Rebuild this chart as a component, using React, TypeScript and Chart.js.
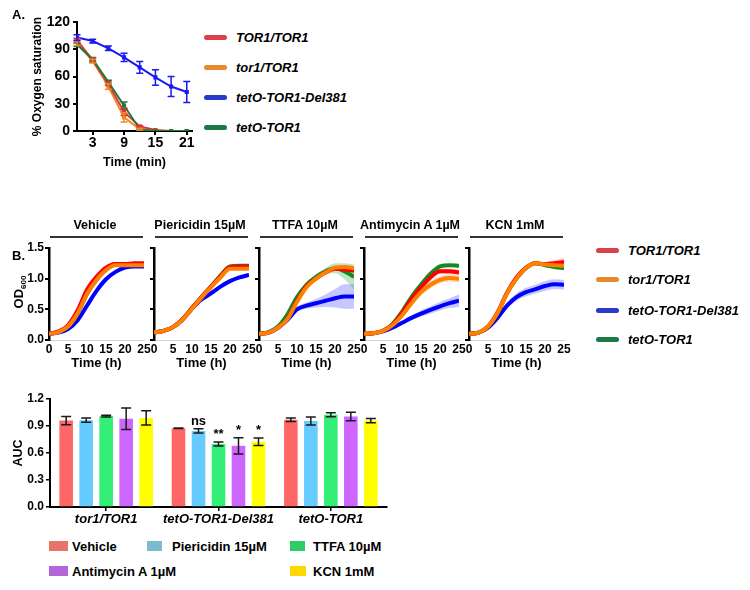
import React, { useEffect, useRef } from 'react';
import { Chart, registerables } from 'chart.js';
Chart.register(...registerables);

const FONT = '"Liberation Sans", Arial, Helvetica, sans-serif';
Chart.defaults.font.family = FONT;
Chart.defaults.color = '#000';

// ---------------- Panel A: oxygen consumption ----------------
const oxyTime = [0, 3, 6, 9, 12, 15, 18, 21];
const oxyXTicks = [3, 9, 15, 21];
const oxyYTicks = [0, 30, 60, 90, 120];
const oxyRed = [100, 78, 52, 21, 5, 1, 0, 0];
const oxyRedErr = [2, 2, 2, 4, 1, 0, 0, 0];
const oxyOrange = [97, 77, 49, 15, 2, 0, 0, 0];
const oxyOrangeErr = [3, 2, 3, 5, 1, 0, 0, 0];
const oxyBlue = [103, 99, 91, 81, 70, 59, 49, 43];
const oxyBlueErr = [3, 2, 2.5, 4.5, 6.5, 8.5, 11, 11.5];
const oxyGreen = [95, 79, 54, 28, 2, 0, 0, 0];
const oxyGreenErr = [2, 2, 2, 4, 1, 0, 0, 0];

// ---------------- Panel B: growth curves ----------------
const strainNames = ['TOR1/TOR1', 'tor1/TOR1', 'tetO-TOR1-Del381', 'tetO-TOR1'];
const treatmentNames = ['Vehicle', 'Piericidin 15µM', 'TTFA 10µM', 'Antimycin A 1µM', 'KCN 1mM'];
const odTime = [0, 2.5, 5, 7.5, 10, 12.5, 15, 17.5, 20, 22.5, 25];
const odXTicks = [0, 5, 10, 15, 20, 25];
const odYTicks = [0, 0.5, 1.0, 1.5];

// rows: Vehicle, Piericidin, TTFA, Antimycin A, KCN
const redOD = [
  [0.10, 0.14, 0.24, 0.48, 0.82, 1.03, 1.18, 1.24, 1.24, 1.25, 1.25],
  [0.12, 0.15, 0.21, 0.34, 0.52, 0.70, 0.87, 1.04, 1.19, 1.20, 1.20],
  [0.10, 0.12, 0.20, 0.35, 0.64, 0.88, 1.00, 1.10, 1.16, 1.15, 1.13],
  [0.10, 0.11, 0.15, 0.25, 0.44, 0.67, 0.86, 1.02, 1.12, 1.12, 1.10],
  [0.10, 0.12, 0.22, 0.45, 0.77, 1.02, 1.18, 1.25, 1.24, 1.25, 1.27],
];
const orangeOD = [
  [0.10, 0.13, 0.22, 0.43, 0.75, 0.98, 1.14, 1.22, 1.22, 1.22, 1.22],
  [0.12, 0.15, 0.21, 0.33, 0.51, 0.69, 0.86, 1.02, 1.16, 1.16, 1.16],
  [0.10, 0.12, 0.20, 0.34, 0.62, 0.86, 1.00, 1.10, 1.18, 1.19, 1.17],
  [0.10, 0.11, 0.15, 0.24, 0.40, 0.60, 0.78, 0.90, 0.98, 1.01, 1.00],
  [0.10, 0.12, 0.22, 0.44, 0.76, 1.00, 1.17, 1.25, 1.23, 1.22, 1.21],
];
const blueOD = [
  [0.10, 0.12, 0.18, 0.32, 0.56, 0.80, 0.99, 1.11, 1.18, 1.20, 1.20],
  [0.12, 0.15, 0.21, 0.33, 0.51, 0.66, 0.76, 0.87, 0.96, 1.02, 1.06],
  [0.10, 0.12, 0.20, 0.33, 0.50, 0.56, 0.60, 0.64, 0.68, 0.71, 0.71],
  [0.10, 0.11, 0.14, 0.20, 0.28, 0.36, 0.43, 0.49, 0.55, 0.60, 0.64],
  [0.10, 0.12, 0.20, 0.36, 0.56, 0.70, 0.78, 0.83, 0.88, 0.91, 0.90],
];
const greenOD = [
  [0.10, 0.13, 0.22, 0.43, 0.75, 0.98, 1.15, 1.24, 1.24, 1.24, 1.23],
  [0.12, 0.15, 0.21, 0.34, 0.52, 0.70, 0.87, 1.05, 1.20, 1.21, 1.21],
  [0.10, 0.13, 0.22, 0.42, 0.70, 0.90, 1.03, 1.12, 1.17, 1.12, 1.03],
  [0.10, 0.11, 0.15, 0.26, 0.46, 0.70, 0.90, 1.08, 1.20, 1.22, 1.21],
  [0.10, 0.12, 0.22, 0.44, 0.76, 1.00, 1.17, 1.25, 1.22, 1.19, 1.17],
];
const redErr = [
  [0, 0.01, 0.01, 0.01, 0.01, 0.01, 0.01, 0.01, 0.01, 0.01, 0.01],
  [0, 0.01, 0.01, 0.01, 0.01, 0.01, 0.01, 0.01, 0.01, 0.01, 0.01],
  [0, 0, 0.01, 0.02, 0.03, 0.03, 0.03, 0.03, 0.03, 0.03, 0.04],
  [0, 0, 0.01, 0.02, 0.03, 0.04, 0.04, 0.04, 0.04, 0.04, 0.04],
  [0, 0, 0.01, 0.01, 0.02, 0.02, 0.02, 0.02, 0.03, 0.05, 0.07],
];
const orangeErr = [
  [0, 0.01, 0.01, 0.01, 0.01, 0.01, 0.01, 0.01, 0.01, 0.01, 0.01],
  [0, 0.01, 0.01, 0.01, 0.01, 0.01, 0.01, 0.01, 0.01, 0.01, 0.01],
  [0, 0, 0.01, 0.02, 0.02, 0.02, 0.02, 0.02, 0.02, 0.02, 0.02],
  [0, 0, 0.01, 0.02, 0.04, 0.05, 0.06, 0.06, 0.06, 0.06, 0.06],
  [0, 0, 0.01, 0.01, 0.01, 0.01, 0.01, 0.01, 0.01, 0.01, 0.01],
];
const blueErr = [
  [0, 0, 0.01, 0.02, 0.03, 0.03, 0.02, 0.02, 0.01, 0.01, 0.01],
  [0, 0, 0.01, 0.01, 0.01, 0.02, 0.03, 0.03, 0.03, 0.03, 0.03],
  [0, 0, 0.01, 0.02, 0.04, 0.05, 0.07, 0.10, 0.15, 0.20, 0.20],
  [0, 0, 0.01, 0.02, 0.03, 0.04, 0.05, 0.06, 0.07, 0.08, 0.10],
  [0, 0, 0.01, 0.03, 0.05, 0.06, 0.07, 0.07, 0.08, 0.08, 0.08],
];
const greenErr = [
  [0, 0.01, 0.01, 0.01, 0.01, 0.01, 0.01, 0.01, 0.01, 0.01, 0.01],
  [0, 0.01, 0.01, 0.01, 0.01, 0.01, 0.01, 0.01, 0.01, 0.01, 0.01],
  [0, 0.01, 0.02, 0.03, 0.04, 0.03, 0.03, 0.05, 0.08, 0.13, 0.20],
  [0, 0.01, 0.02, 0.02, 0.02, 0.02, 0.02, 0.02, 0.02, 0.02, 0.02],
  [0, 0.01, 0.02, 0.02, 0.02, 0.02, 0.02, 0.02, 0.02, 0.02, 0.02],
];

// ---------------- Panel C: AUC bars ----------------
const aucGroups = ['tor1/TOR1', 'tetO-TOR1-Del381', 'tetO-TOR1'];
const aucTreatments = ['Vehicle', 'Piericidin 15µM', 'TTFA 10µM', 'Antimycin A 1µM', 'KCN 1mM'];
const aucYTicks = [0, 0.3, 0.6, 0.9, 1.2];
const aucVehicle = [0.96, 0.875, 0.97];
const aucVehicleErr = [0.045, 0.004, 0.02];
const aucPiericidin = [0.965, 0.845, 0.955];
const aucPiericidinErr = [0.024, 0.024, 0.044];
const aucTTFA = [1.01, 0.70, 1.025];
const aucTTFAErr = [0.01, 0.022, 0.022];
const aucAntimycin = [0.98, 0.68, 1.005];
const aucAntimycinErr = [0.12, 0.09, 0.048];
const aucKCN = [0.99, 0.725, 0.96];
const aucKCNErr = [0.08, 0.043, 0.024];
const aucSig = [
  ['', '', ''],
  ['', 'ns', ''],
  ['', '**', ''],
  ['', '*', ''],
  ['', '*', ''],
];

// ---------------- helpers ----------------
const errorBarPlugin = {
  id: 'errorBars',
  afterDatasetsDraw(chart: any) {
    const ctx = chart.ctx;
    const yScale = chart.scales.y;
    chart.data.datasets.forEach((ds: any, i: number) => {
      if (!ds.errors) return;
      const meta = chart.getDatasetMeta(i);
      ctx.save();
      ctx.strokeStyle = ds.errorColor || ds.borderColor;
      ctx.lineWidth = ds.errorWidth || 1.5;
      meta.data.forEach((el: any, j: number) => {
        const e = ds.errors[j];
        const raw = ds.data[j];
        const v = typeof raw === 'number' ? raw : raw.y;
        const x = el.x;
        if (e) {
          const y1 = yScale.getPixelForValue(v + e);
          const y2 = yScale.getPixelForValue(Math.max(v - e, 0));
          const cw = ds.capWidth || 4;
          ctx.beginPath();
          ctx.moveTo(x, y1); ctx.lineTo(x, y2);
          ctx.moveTo(x - cw, y1); ctx.lineTo(x + cw, y1);
          ctx.moveTo(x - cw, y2); ctx.lineTo(x + cw, y2);
          ctx.stroke();
        }
        if (ds.marks && ds.marks[j]) {
          const top = yScale.getPixelForValue(v + (e || 0));
          ctx.fillStyle = '#000';
          ctx.font = `bold 13px ${FONT}`;
          ctx.textAlign = 'center';
          ctx.textBaseline = 'alphabetic';
          ctx.fillText(ds.marks[j], x, top - 4);
        }
      });
      ctx.restore();
    });
  },
};

function ChartBox({ left, top, width, height, make }: any) {
  const ref = useRef<HTMLCanvasElement>(null);
  useEffect(() => {
    const chart = new Chart(ref.current as HTMLCanvasElement, make());
    return () => chart.destroy();
  }, []);
  return (
    <canvas
      ref={ref}
      width={width}
      height={height}
      style={{ position: 'absolute', left, top, width, height }}
    />
  );
}

function T({ x, y, size = 13, italic = false, bold = true, anchor = 'left', rotate = false, children }: any) {
  const tx = anchor === 'center' ? '-50%' : anchor === 'right' ? '-100%' : '0';
  return (
    <div
      style={{
        position: 'absolute',
        left: x,
        top: y,
        transform: `translate(${tx}, -50%)${rotate ? ' rotate(-90deg)' : ''}`,
        fontSize: size,
        fontWeight: bold ? 700 : 400,
        fontStyle: italic ? 'italic' : 'normal',
        lineHeight: 1,
        whiteSpace: 'nowrap',
        color: '#000',
      }}
    >
      {children}
    </div>
  );
}

const legendLineColors = ['#D9404A', '#E8892B', '#2B3AC8', '#1B7A43'];
const barColors = ['#FF6666', '#66CCFF', '#33EE77', '#CC66FF', '#FFFF00'];
const barLegendColors = ['#E87368', '#7ABBCF', '#2ECC66', '#B366D9', '#FFD700'];

const axisBlack = (w = 2) => ({ display: true, color: '#000', width: w });
const flatTicks = { maxRotation: 0, minRotation: 0, autoSkip: false };

function makeOxyChart() {
  const series = [
    { label: strainNames[3], v: oxyGreen, e: oxyGreenErr, c: '#1E7B3C' },
    { label: strainNames[0], v: oxyRed, e: oxyRedErr, c: '#E5333B' },
    { label: strainNames[1], v: oxyOrange, e: oxyOrangeErr, c: '#F28A24' },
    { label: strainNames[2], v: oxyBlue, e: oxyBlueErr, c: '#1A1AF0' },
  ];
  return {
    type: 'line',
    data: {
      datasets: series.map((s) => ({
        label: s.label,
        data: oxyTime.map((t, j) => ({ x: t, y: s.v[j] })),
        errors: s.e,
        capWidth: 3.5,
        borderColor: s.c,
        backgroundColor: s.c,
        borderWidth: 2,
        pointRadius: 1.5,
        pointStyle: 'rect',
        tension: 0,
      })),
    },
    options: {
      animation: false,
      responsive: false,
      layout: { padding: { left: 0, right: 8, top: 22, bottom: 0 } },
      plugins: { legend: { display: false }, tooltip: { enabled: false } },
      scales: {
        x: {
          type: 'linear',
          min: 0,
          max: 22,
          afterBuildTicks: (s: any) => { s.ticks = oxyXTicks.map((v) => ({ value: v })); },
          afterFit: (s: any) => { s.height = 44; },
          ticks: { ...flatTicks, font: { size: 14, weight: 'bold' }, color: '#000', padding: 0 },
          grid: { drawOnChartArea: false, color: '#000', lineWidth: 2, tickLength: 4 },
          border: axisBlack(2),
          title: { display: true, text: 'Time (min)', color: '#000', font: { size: 12.5, weight: 'bold' }, padding: { top: 0, bottom: 5 } },
        },
        y: {
          min: 0,
          max: 120,
          afterBuildTicks: (s: any) => { s.ticks = oxyYTicks.map((v) => ({ value: v })); },
          afterFit: (s: any) => { s.width = 77; },
          ticks: { ...flatTicks, font: { size: 14, weight: 'bold' }, color: '#000', padding: 3 },
          grid: { drawOnChartArea: false, color: '#000', lineWidth: 2, tickLength: 4 },
          border: axisBlack(2),
          title: { display: true, text: '% Oxygen saturation', color: '#000', font: { size: 12, weight: 'bold' }, padding: { top: 30, bottom: 0 } },
        },
      },
    },
    plugins: [errorBarPlugin],
  };
}

function makeGrowthChart(p: number) {
  const series = [
    { od: orangeOD, err: orangeErr, c: '#FF8000', band: 'rgba(255,150,70,0.35)', order: 0 },
    { od: redOD, err: redErr, c: '#FF0000', band: 'rgba(255,70,70,0.3)', order: 1 },
    { od: greenOD, err: greenErr, c: '#118A1E', band: 'rgba(40,170,60,0.3)', order: 2 },
    { od: blueOD, err: blueErr, c: '#0000FF', band: 'rgba(70,70,255,0.3)', order: 3 },
  ];
  const datasets: any[] = [];
  series.forEach((s) => {
    const v = s.od[p];
    const e = s.err[p];
    const upIdx = datasets.length;
    datasets.push({
      data: odTime.map((t, j) => ({ x: t, y: v[j] + e[j] })),
      borderWidth: 0, pointRadius: 0, fill: false, order: 10,
      borderColor: 'rgba(0,0,0,0)', cubicInterpolationMode: 'monotone',
    });
    datasets.push({
      data: odTime.map((t, j) => ({ x: t, y: v[j] - e[j] })),
      borderWidth: 0, pointRadius: 0, fill: upIdx, order: 10,
      borderColor: 'rgba(0,0,0,0)', backgroundColor: s.band, cubicInterpolationMode: 'monotone',
    });
  });
  series.forEach((s) => {
    datasets.push({
      data: odTime.map((t, j) => ({ x: t, y: s.od[p][j] })),
      borderColor: s.c,
      borderWidth: 4,
      pointRadius: 0,
      fill: false,
      order: s.order,
      cubicInterpolationMode: 'monotone',
    });
  });
  return {
    type: 'line',
    data: { datasets },
    options: {
      animation: false,
      responsive: false,
      layout: { padding: { left: 0, right: 12, top: 12, bottom: 0 } },
      plugins: { legend: { display: false }, tooltip: { enabled: false } },
      scales: {
        x: {
          type: 'linear',
          min: 0,
          max: 25,
          afterBuildTicks: (s: any) => { s.ticks = odXTicks.map((v) => ({ value: v })); },
          afterFit: (s: any) => { s.height = 32; },
          ticks: { ...flatTicks, font: { size: 12, weight: 'bold' }, color: '#000', padding: 2 },
          grid: { display: false, drawTicks: false },
          border: { display: true, color: '#d4d4d4', width: 1 },
          title: { display: true, text: 'Time (h)', color: '#000', font: { size: 13, weight: 'bold' }, padding: { top: 0, bottom: 1 } },
        },
        y: {
          min: 0,
          max: 1.5,
          afterBuildTicks: (s: any) => { s.ticks = odYTicks.map((v) => ({ value: v })); },
          afterFit: (s: any) => { s.width = 45; },
          ticks: {
            ...flatTicks,
            font: { size: 12, weight: 'bold' },
            color: '#000',
            padding: 1,
            callback: (v: any) => (p === 0 ? Number(v).toFixed(1) : ''),
          },
          grid: { drawOnChartArea: false, color: '#000', lineWidth: 2, tickLength: 4 },
          border: axisBlack(2.5),
        },
      },
    },
  };
}

function makeAucChart() {
  const vals = [aucVehicle, aucPiericidin, aucTTFA, aucAntimycin, aucKCN];
  const errs = [aucVehicleErr, aucPiericidinErr, aucTTFAErr, aucAntimycinErr, aucKCNErr];
  return {
    type: 'bar',
    data: {
      labels: aucGroups,
      datasets: aucTreatments.map((name, i) => ({
        label: name,
        data: vals[i],
        errors: errs[i],
        marks: aucSig[i],
        errorColor: '#1a1a1a',
        errorWidth: 1.5,
        capWidth: 5,
        backgroundColor: barColors[i],
        borderWidth: 0,
        categoryPercentage: 0.89,
        barPercentage: 0.68,
      })),
    },
    options: {
      animation: false,
      responsive: false,
      layout: { padding: { left: 0, right: 13, top: 19, bottom: 0 } },
      plugins: { legend: { display: false }, tooltip: { enabled: false } },
      scales: {
        x: {
          afterFit: (s: any) => { s.height = 23; },
          ticks: { ...flatTicks, font: { size: 13, weight: 'bold', style: 'italic' }, color: '#000', padding: 1 },
          grid: { offset: false, drawOnChartArea: false, color: '#000', lineWidth: 1.5, tickLength: 4 },
          border: axisBlack(2),
        },
        y: {
          min: 0,
          max: 1.2,
          afterBuildTicks: (s: any) => { s.ticks = aucYTicks.map((v) => ({ value: v })); },
          afterFit: (s: any) => { s.width = 50; },
          ticks: { ...flatTicks, font: { size: 12, weight: 'bold' }, color: '#000', padding: 2, callback: (v: any) => Number(v).toFixed(1) },
          grid: { drawOnChartArea: false, color: '#000', lineWidth: 1.5, tickLength: 4 },
          border: axisBlack(2),
          title: { display: true, text: 'AUC', color: '#000', font: { size: 12.5, weight: 'bold' }, padding: { top: 11, bottom: 0 } },
        },
      },
    },
    plugins: [errorBarPlugin],
  };
}

const panelLefts = [49, 154, 259, 364, 469];

function LegendRow({ x, y, color, label }: any) {
  return (
    <>
      <div style={{ position: 'absolute', left: x, top: y - 2.5, width: 23, height: 5, borderRadius: 3, background: color }} />
      <T x={x + 32} y={y} italic size={13}>{label}</T>
    </>
  );
}

export default function App() {
  const legendA = [37, 67, 97, 127];
  const legendB = [250, 279, 310, 339];
  const barLegend = [
    { x: 49, y: 546, w: 19, tx: 72 },
    { x: 147, y: 546, w: 15, tx: 172 },
    { x: 290, y: 546, w: 15, tx: 313 },
    { x: 49, y: 571, w: 19, tx: 72 },
    { x: 290, y: 571, w: 16, tx: 313 },
  ];
  return (
    <div style={{ position: 'absolute', left: 0, top: 0, width: 750, height: 590, background: '#fff', fontFamily: FONT, overflow: 'hidden' }}>
      <ChartBox left={0} top={0} width={200} height={175} make={makeOxyChart} />
      {panelLefts.map((L, p) => (
        <ChartBox key={p} left={L - 45} top={236} width={152} height={136} make={() => makeGrowthChart(p)} />
      ))}
      <ChartBox left={0} top={380} width={400} height={150} make={makeAucChart} />

      <T x={12} y={14} size={13}>A.</T>
      <T x={12} y={255} size={13}>B.</T>

      {legendA.map((y, i) => (
        <LegendRow key={'a' + i} x={204} y={y} color={legendLineColors[i]} label={strainNames[i]} />
      ))}
      {legendB.map((y, i) => (
        <LegendRow key={'b' + i} x={596} y={y} color={legendLineColors[i]} label={strainNames[i]} />
      ))}

      {panelLefts.map((L, p) => (
        <React.Fragment key={'t' + p}>
          <T x={L + 46} y={225} size={12.5} anchor="center">{treatmentNames[p]}</T>
          <div style={{ position: 'absolute', left: L + 1, top: 236, width: 93, height: 1.5, background: '#333' }} />
        </React.Fragment>
      ))}

      <T x={20} y={292} size={13} anchor="center" rotate>
        OD<span style={{ fontSize: 8, verticalAlign: 'sub' }}>600</span>
      </T>

      {barLegend.map((b, i) => (
        <React.Fragment key={'l' + i}>
          <div style={{ position: 'absolute', left: b.x, top: b.y - 5, width: b.w, height: 10, background: barLegendColors[i] }} />
          <T x={b.tx} y={b.y} size={13}>{aucTreatments[i]}</T>
        </React.Fragment>
      ))}
    </div>
  );
}
